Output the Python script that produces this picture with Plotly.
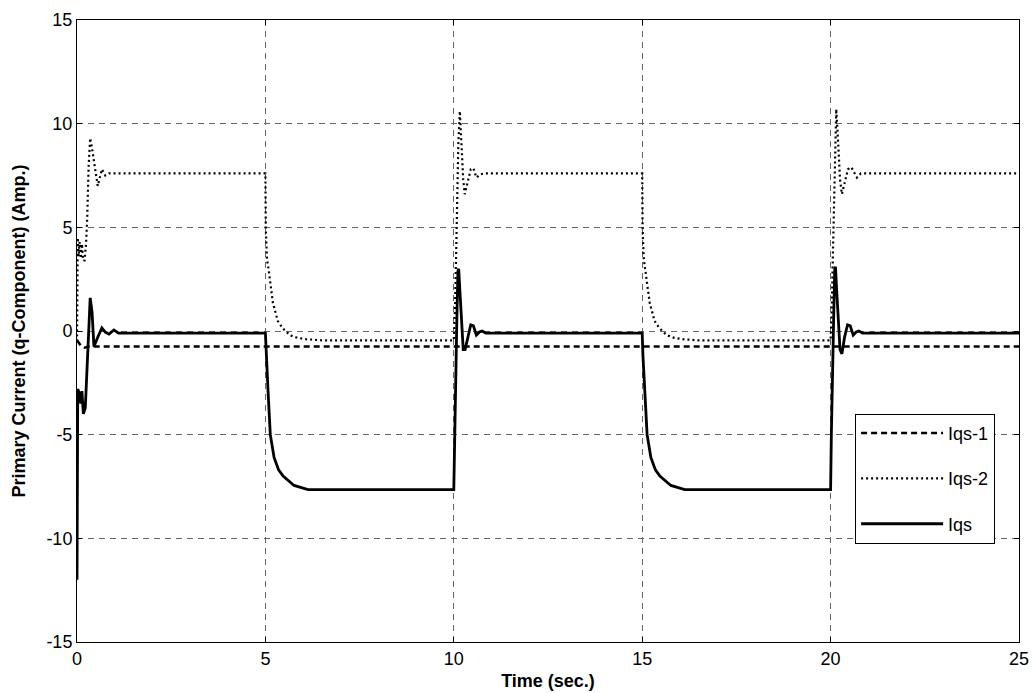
import plotly.graph_objects as go

# Iqs-1 (dashed)
t_iqs1 = [0.0, 0.1, 0.2, 0.3, 25.0]
iqs1 = [-0.45, -0.7, -0.8, -0.75, -0.75]

# Iqs-2 (dotted)
t_iqs2 = [0.0, 0.02, 0.04, 0.07, 0.1, 0.13, 0.16, 0.2, 0.24, 0.27, 0.31, 0.35, 0.4, 0.45, 0.55,
          0.66, 0.75, 0.85, 1.0,
          5.0, 5.01, 5.04, 5.09, 5.2, 5.33, 5.45, 5.65, 5.85, 6.1, 6.5,
          10.0, 10.03, 10.06, 10.09, 10.12, 10.16, 10.2, 10.25, 10.29, 10.35, 10.45, 10.52, 10.6,
          10.7, 10.8,
          15.0, 15.01, 15.04, 15.09, 15.2, 15.33, 15.45, 15.65, 15.85, 16.1, 16.5,
          20.0, 20.03, 20.06, 20.09, 20.12, 20.15, 20.2, 20.25, 20.3, 20.36, 20.46, 20.55, 20.63,
          20.7, 20.8, 25.0]
iqs2 = [-0.5, 4.5, 3.6, 4.3, 3.5, 4.2, 3.4, 3.4, 4.2, 5.4, 8.0, 9.3, 8.8, 8.2, 7.0,
        7.8, 7.5, 7.6, 7.6,
        7.6, 5.0, 3.5, 2.9, 1.35, 0.48, 0.15, -0.2, -0.33, -0.4, -0.45,
        -0.45, 1.0, 3.5, 6.5, 9.0, 10.6, 9.0, 7.3, 6.6, 7.0, 7.8, 7.85, 7.4,
        7.55, 7.6,
        7.6, 5.0, 3.5, 2.9, 1.35, 0.48, 0.15, -0.2, -0.33, -0.4, -0.45,
        -0.45, 1.0, 3.6, 6.6, 9.2, 10.7, 9.1, 7.3, 6.6, 7.0, 7.8, 7.9, 7.6,
        7.4, 7.6, 7.6]

# Iqs (solid)
t_iqs = [0.0, 0.005, 0.01, 0.02, 0.06, 0.1, 0.13, 0.17, 0.22, 0.25, 0.3, 0.35, 0.4, 0.45, 0.55,
         0.66, 0.75, 0.85, 0.98, 1.1,
         5.0, 5.02, 5.07, 5.13, 5.23, 5.35, 5.47, 5.76, 6.13,
         10.0, 10.02, 10.04, 10.08, 10.11, 10.13, 10.16, 10.2, 10.25, 10.3, 10.37, 10.45, 10.52,
         10.6, 10.68, 10.75, 10.85,
         15.0, 15.02, 15.07, 15.13, 15.23, 15.35, 15.47, 15.76, 16.13,
         20.0, 20.02, 20.04, 20.08, 20.11, 20.13, 20.16, 20.2, 20.25, 20.3, 20.37, 20.45, 20.52,
         20.6, 20.68, 20.75, 20.85, 25.0]
iqs = [-12.0, -6.2, -8.0, -2.8, -3.0, -3.5, -2.9, -4.0, -3.7, -2.4, -0.5, 1.6, 0.9, -0.75, -0.3,
       0.15, -0.05, -0.15, 0.05, -0.1,
       -0.1, -1.2, -2.9, -5.0, -6.1, -6.7, -7.0, -7.45, -7.65,
       -7.65, -5.0, -2.3, 0.5, 2.9, 3.0, 2.0, 0.5, -0.9, -0.9, -0.3, 0.3, 0.25,
       -0.2, -0.05, 0.0, -0.1,
       -0.1, -1.2, -2.9, -5.0, -6.1, -6.7, -7.0, -7.45, -7.65,
       -7.65, -5.0, -2.3, 0.5, 3.0, 3.1, 2.0, 0.5, -0.9, -1.1, -0.3, 0.3, 0.25,
       -0.2, -0.05, 0.0, -0.1, -0.1]

x_ticks = [0, 5, 10, 15, 20, 25]
y_ticks = [-15, -10, -5, 0, 5, 10, 15]
y_ticklabels = ['-15', '-10', '-5', '0', '5', '10', '15']

FONT = 'Liberation Sans, Arial'

fig = go.Figure()
fig.add_trace(go.Scatter(x=t_iqs1, y=iqs1, mode='lines', name='Iqs-1', legendgroup='a',
                         line=dict(color='black', width=2.5, dash='6px,4px')))
fig.add_trace(go.Scatter(x=t_iqs2, y=iqs2, mode='lines', name='Iqs-2', legendgroup='b',
                         line=dict(color='black', width=2.2, dash='2px,3px')))
fig.add_trace(go.Scatter(x=t_iqs, y=iqs, mode='lines', name='Iqs', legendgroup='c',
                         line=dict(color='black', width=2.8)))

axis_common = dict(showline=True, linecolor='black', linewidth=1, mirror='ticks',
                   ticks='inside', ticklen=5, tickcolor='black', automargin=False,
                   showgrid=True, gridcolor='#666666', gridwidth=1, griddash='6px,5px',
                   zeroline=False, tickfont=dict(family=FONT, size=18, color='black'))

fig.update_xaxes(range=[0, 25], tickvals=x_ticks,
                 title=dict(text='<b>Time (sec.)</b>', standoff=6,
                            font=dict(family=FONT, size=18, color='black')),
                 **axis_common)
fig.update_yaxes(range=[-15, 15], tickvals=y_ticks, ticktext=y_ticklabels,
                 title=dict(text='<b>Primary Current (q-Component) (Amp.)</b>', standoff=16,
                            font=dict(family=FONT, size=18, color='black')),
                 **axis_common)

fig.update_layout(width=1036, height=693,
                  margin=dict(l=77, r=17, t=20, b=51),
                  plot_bgcolor='white', paper_bgcolor='white',
                  legend=dict(x=0.826, y=0.367, xanchor='left', yanchor='top',
                              bgcolor='white', bordercolor='black', borderwidth=1,
                              tracegroupgap=19, itemwidth=82,
                              font=dict(family=FONT, size=18, color='black')))

fig.write_html("out.html", config={'displayModeBar': False},
               post_script="document.body.style.margin='0';")
